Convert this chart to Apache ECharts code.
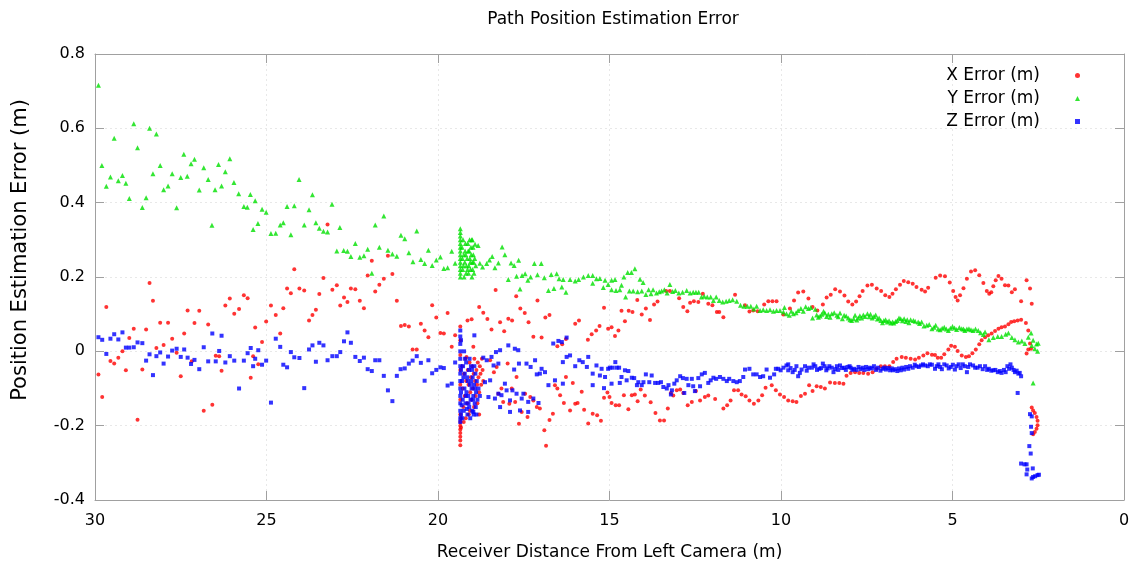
<!DOCTYPE html>
<html>
<head>
<meta charset="utf-8">
<script src="https://cdn.jsdelivr.net/npm/echarts@6/dist/echarts.min.js"></script>
<style>
html,body{margin:0;padding:0;background:#fff;}
#chart{width:1140px;height:569px;}
</style>
</head>
<body>
<div id="chart"></div>
<script>
// ---- data ----
const chartTitle = 'Path Position Estimation Error';
const xAxisName = 'Receiver Distance From Left Camera (m)';
const yAxisName = 'Position Estimation Error (m)';
const seriesNames = ['X Error (m)', 'Y Error (m)', 'Z Error (m)'];
const xTicks = [0, 5, 10, 15, 20, 25, 30];
const yTicks = [-0.4, -0.2, 0, 0.2, 0.4, 0.6, 0.8];

// X Error (red)
const xErrorData = [
[29.9,-0.062],[29.79,-0.123],[29.67,0.119],[29.55,-0.026],[29.44,-0.033],[29.32,-0.017],[29.2,0.0],[29.1,-0.051],[29.0,0.036],[28.87,0.061],[28.76,-0.184],[28.62,-0.049],[28.51,0.059],[28.41,0.184],[28.31,0.136],[28.21,0.009],[28.1,0.077],[28.0,0.017],[27.87,0.077],[27.75,0.034],[27.62,-0.004],[27.5,-0.067],[27.4,0.048],[27.3,0.11],[27.18,-0.027],[27.1,0.076],[26.96,0.109],[26.83,-0.16],[26.7,0.072],[26.58,-0.144],[26.48,-0.012],[26.38,-0.013],[26.31,-0.052],[26.2,0.123],[26.07,0.142],[25.94,0.101],[25.8,0.114],[25.66,0.151],[25.55,0.143],[25.46,-0.071],[25.39,-0.013],[25.33,0.064],[25.24,-0.035],[25.13,0.025],[25.01,0.08],[24.87,0.123],
[24.73,0.098],[24.6,0.048],[24.51,0.116],[24.4,0.169],[24.29,0.156],[24.19,0.221],[24.04,0.169],[23.9,0.164],[23.76,0.083],[23.66,0.098],[23.56,0.112],[23.46,0.154],[23.34,0.197],[23.22,0.341],[23.08,0.166],[22.95,0.178],[22.85,0.123],[22.74,0.145],[22.64,0.133],[22.54,0.169],[22.41,0.167],[22.28,0.136],[22.16,0.116],[22.05,0.204],[21.93,0.244],[21.83,0.161],[21.71,0.179],[21.58,0.195],[21.46,0.257],[21.33,0.208],[21.2,0.136],[21.08,0.068],[20.97,0.071],[20.85,0.067],[20.74,0.005],[20.62,0.005],[20.5,0.074],[20.39,0.056],[20.28,0.038],[20.17,0.124],[20.05,0.091],[19.93,0.049],[19.83,0.048],[19.72,0.103],[19.6,0.012],[19.5,0.043],
[19.35,0.067],[19.35,0.03],[19.35,-0.01],[19.35,-0.05],[19.35,-0.09],[19.35,-0.13],[19.35,-0.17],[19.35,-0.19],[19.35,-0.2],[19.35,-0.21],[19.35,-0.22],[19.35,-0.23],[19.35,-0.24],[19.35,-0.253],[19.33,-0.18],[19.33,-0.205],
[19.3,-0.04],[19.28,-0.1],[19.26,-0.15],[19.24,-0.06],[19.22,-0.12],[19.2,-0.02],[19.18,-0.08],[19.17,-0.015],[19.15,-0.14],[19.13,-0.05],[19.11,-0.09],[19.1,-0.17],[19.08,-0.03],[19.06,-0.11],[19.04,-0.07],[19.02,-0.13],[19.0,-0.04],[18.98,-0.1],[18.96,-0.06],[18.94,-0.02],[18.92,-0.08],[18.9,-0.12],[18.88,-0.05],[18.86,-0.09],[18.84,-0.03],[18.82,-0.07],[18.8,-0.11],[18.78,-0.04],[18.76,-0.06],[18.74,-0.09],[18.72,-0.02],[18.7,-0.05],[18.68,-0.08],[19.14,0.083],[19.02,0.086],[18.97,0.012],[19.07,-0.16],[19.19,-0.18],[18.85,-0.14],[18.95,-0.15],[19.25,-0.19],[18.8,-0.17],
[18.8,0.119],[18.68,0.104],[18.56,0.087],[18.44,0.059],[18.32,0.165],[18.19,0.078],[18.07,0.054],[17.95,0.088],[17.84,0.083],[17.72,0.148],[17.6,0.115],[17.47,0.103],[17.36,0.078],[17.22,0.039],[17.1,0.137],[16.98,0.037],[16.87,0.091],[16.75,0.098],[16.52,0.014],[16.38,0.019],[16.27,0.033],[16.0,0.074],[15.89,0.083],[15.63,0.031],
[18.48,-0.024],[18.37,-0.056],[18.29,-0.042],[18.24,-0.114],[18.15,-0.1],[18.1,-0.136],[17.97,-0.033],[17.92,-0.141],[17.85,-0.1],[17.75,-0.136],[17.71,-0.069],[17.64,-0.195],[17.56,-0.163],[17.46,-0.114],[17.39,-0.177],[17.31,-0.123],[17.22,-0.132],[17.12,-0.15],[17.03,-0.154],[16.9,-0.212],[16.85,-0.254],[16.75,-0.185],[16.65,-0.168],[16.59,-0.091],[16.52,-0.1],[16.44,-0.118],[16.33,-0.139],[16.27,-0.069],[16.15,-0.159],[16.07,-0.085],[16.0,-0.141],[15.93,-0.139],[15.81,-0.109],[15.74,-0.157],[15.62,-0.194],
[15.52,0.046],[15.39,0.056],[15.29,0.068],[15.16,0.117],[15.04,0.061],[14.94,0.065],[14.84,0.041],[14.74,0.056],[14.65,0.109],[14.55,0.081],[14.44,0.109],[14.33,0.106],[14.19,0.138],[14.06,0.099],[13.94,0.115],[13.82,0.084],[13.7,0.126],[13.6,0.134],[13.35,0.162],[13.24,0.162],[12.97,0.143],[12.85,0.119],[12.73,0.108],[12.65,0.131],[12.54,0.135],[12.41,0.133],[12.28,0.155],[12.12,0.128],[12.0,0.124],[11.87,0.106],[11.8,0.106],[11.68,0.092],[11.34,0.152],[11.05,0.124],[10.92,0.107],[10.81,0.11],[10.68,0.108],[10.49,0.126],[10.37,0.135],[10.25,0.135],[10.13,0.135],
[15.49,-0.168],[15.36,-0.172],[15.25,-0.187],[15.16,-0.125],[15.06,-0.111],[15.0,-0.123],[14.94,-0.139],[14.82,-0.145],[14.72,-0.145],[14.58,-0.118],[14.45,-0.156],[14.35,-0.118],[14.26,-0.116],[14.18,-0.134],[14.09,-0.103],[13.97,-0.119],[13.8,-0.137],[13.66,-0.166],[13.53,-0.186],[13.41,-0.186],[13.3,-0.154],[13.21,-0.112],[13.14,-0.119],[13.04,-0.105],[12.94,-0.103],[12.85,-0.112],[12.72,-0.145],[12.6,-0.136],[12.48,-0.107],[12.36,-0.132],[12.22,-0.123],[12.12,-0.119],[11.92,-0.128],[11.68,-0.154],[11.57,-0.145],[11.47,-0.132],[11.37,-0.105],[11.25,-0.105],[11.15,-0.116],[11.03,-0.121],[10.92,-0.132],[10.79,-0.141],[10.66,-0.132],[10.55,-0.118],[10.45,-0.098],
[10.27,-0.091],[10.15,-0.105],[10.03,-0.116],[9.91,-0.123],[9.79,-0.132],[9.66,-0.134],[9.55,-0.136],[9.42,-0.12],[9.3,-0.114],[9.18,-0.091],[9.08,-0.107],[8.96,-0.094],[8.84,-0.096],[8.72,-0.1],[8.57,-0.084],[8.43,-0.085],[8.3,-0.085],[8.18,-0.087],[8.09,-0.066],[7.97,-0.058],[7.84,-0.056],[7.72,-0.058],[7.6,-0.058],[7.46,-0.06],[7.33,-0.056],[7.21,-0.047],[7.09,-0.04],[6.97,-0.04],[6.84,-0.04],[6.73,-0.029],[6.63,-0.02],[6.48,-0.015],[6.36,-0.017],[6.22,-0.02],[6.09,-0.022],
[9.93,0.099],[9.74,0.115],[9.62,0.137],[9.5,0.158],[9.35,0.161],[9.2,0.142],[9.08,0.119],[8.94,0.11],[8.78,0.126],[8.67,0.145],[8.55,0.152],[8.42,0.167],[8.28,0.161],[8.15,0.15],[8.04,0.134],[7.92,0.126],[7.81,0.134],[7.71,0.148],[7.62,0.162],[7.48,0.177],[7.35,0.179],[7.21,0.169],[7.08,0.162],[6.96,0.151],[6.84,0.146],[6.75,0.155],[6.65,0.167],[6.53,0.179],[6.42,0.189],[6.29,0.186],[6.16,0.182],[6.05,0.173],
[5.9,0.166],[5.8,0.161],[5.71,0.171],[5.49,0.198],[5.36,0.204],[5.22,0.202],[5.08,0.185],[4.98,0.162],[4.91,0.146],[4.85,0.137],[4.78,0.151],[4.68,0.17],[4.58,0.195],[4.46,0.215],[4.34,0.218],[4.22,0.205],[4.1,0.184],[4.0,0.162],[3.93,0.155],[3.87,0.159],[3.81,0.175],[3.74,0.191],[3.66,0.203],[3.57,0.195],[3.47,0.178],[3.37,0.177],[3.27,0.159],[3.18,0.167],[3.0,0.135],[2.84,0.191],[2.74,0.169],[2.69,0.128],
[5.98,-0.017],[5.85,-0.011],[5.73,-0.005],[5.6,-0.009],[5.51,-0.01],[5.43,-0.017],[5.33,-0.017],[5.24,-0.008],[5.12,0.005],[5.04,0.015],[4.93,0.012],[4.85,0.001],[4.73,-0.011],[4.61,-0.015],[4.52,-0.013],[4.42,-0.005],[4.32,0.005],[4.22,0.019],[4.15,0.03],[4.05,0.038],[3.96,0.043],[3.86,0.048],[3.76,0.055],[3.66,0.061],[3.57,0.065],[3.47,0.067],[3.37,0.073],[3.29,0.079],[3.2,0.081],[3.1,0.083],[3.0,0.085],[2.86,0.076],[2.79,0.056],[2.74,0.021],[2.79,0.005],[2.84,-0.006],[2.71,0.007],
[2.69,-0.151],[2.65,-0.159],[2.6,-0.166],[2.55,-0.177],[2.52,-0.187],[2.52,-0.199],[2.55,-0.208],[2.6,-0.217],[2.65,-0.223]
];

// Y Error (green)
const yErrorData = [
[29.9,0.716],[29.8,0.5],[29.67,0.444],[29.55,0.469],[29.44,0.573],[29.32,0.459],[29.2,0.473],[29.1,0.452],[29.0,0.411],[28.87,0.612],[28.76,0.548],[28.62,0.387],[28.51,0.413],[28.41,0.6],[28.31,0.478],[28.21,0.585],[28.1,0.5],[28.0,0.435],[27.87,0.445],[27.75,0.478],[27.62,0.386],[27.5,0.468],[27.41,0.53],[27.31,0.471],[27.2,0.505],[27.1,0.517],[26.96,0.434],[26.83,0.494],[26.7,0.462],[26.59,0.339],[26.5,0.435],[26.4,0.503],[26.31,0.445],[26.2,0.483],[26.07,0.518],[25.95,0.454],[25.81,0.424],[25.66,0.39],[25.56,0.388],[25.47,0.422],[25.39,0.328],[25.33,0.405],[25.25,0.344],[25.13,0.382],[25.01,0.374],[24.87,0.317],
[24.73,0.318],[24.6,0.34],[24.51,0.346],[24.4,0.39],[24.29,0.314],[24.19,0.392],[24.05,0.462],[23.9,0.34],[23.76,0.381],[23.66,0.421],[23.56,0.346],[23.46,0.331],[23.34,0.323],[23.22,0.321],[23.09,0.396],[22.95,0.27],[22.86,0.333],[22.75,0.271],[22.64,0.269],[22.54,0.255],[22.41,0.29],[22.28,0.253],[22.16,0.257],[22.05,0.275],[21.93,0.21],[21.83,0.34],[21.71,0.28],[21.58,0.364],[21.46,0.272],[21.33,0.262],[21.2,0.256],[21.08,0.312],[20.97,0.303],[20.85,0.265],[20.73,0.241],[20.62,0.324],[20.5,0.247],[20.39,0.236],[20.28,0.272],[20.17,0.231],[20.05,0.246],[19.93,0.254],[19.83,0.223],[19.72,0.225],[19.6,0.269],[19.5,0.237],
[19.35,0.2],[19.35,0.21],[19.35,0.22],[19.35,0.23],[19.35,0.24],[19.35,0.25],[19.35,0.26],[19.35,0.27],[19.35,0.28],[19.35,0.29],[19.35,0.3],[19.35,0.31],[19.35,0.32],[19.35,0.33],
[19.3,0.28],[19.28,0.22],[19.25,0.26],[19.22,0.24],[19.2,0.29],[19.18,0.21],[19.15,0.25],[19.12,0.27],[19.1,0.23],[19.08,0.3],[19.05,0.22],[19.03,0.26],[19.0,0.24],[18.98,0.28],[18.95,0.21],[18.93,0.25],[18.9,0.23],[19.27,0.3],[19.24,0.2],[19.21,0.27],[19.17,0.23],[19.13,0.29],[19.11,0.21],[19.07,0.25],[19.04,0.28],[19.01,0.2],[18.97,0.26],[19.29,0.25],[19.26,0.23],[19.19,0.26],[19.14,0.22],[19.09,0.27],[19.06,0.24],[19.02,0.3],[18.99,0.22],[18.96,0.24],
[19.0,0.3],[18.92,0.288],[18.83,0.285],[18.78,0.237],[18.7,0.227],[18.58,0.236],[18.5,0.246],[18.42,0.255],[18.34,0.225],[18.24,0.238],[18.13,0.281],[18.05,0.26],[17.95,0.193],[17.87,0.238],[17.78,0.231],[17.71,0.202],[17.65,0.245],[17.61,0.168],[17.55,0.204],[17.46,0.209],[17.38,0.191],[17.3,0.2],[17.19,0.236],[17.1,0.206],[16.99,0.236],[16.9,0.198],[16.78,0.164],[16.7,0.207],[16.62,0.169],[16.54,0.209],[16.47,0.195],[16.39,0.173],[16.35,0.193],[16.27,0.159],[16.15,0.193],[16.0,0.189],[15.9,0.193],[15.76,0.2],[15.62,0.204],
[15.49,0.204],[15.38,0.195],[15.49,0.183],[15.28,0.196],[15.18,0.172],[15.13,0.191],[15.04,0.18],[14.94,0.191],[14.84,0.193],[14.94,0.166],[14.81,0.164],[14.7,0.166],[14.65,0.178],[14.58,0.2],[14.53,0.146],[14.47,0.212],[14.42,0.162],[14.36,0.212],[14.31,0.162],[14.26,0.222],[14.18,0.16],[14.11,0.194],[14.06,0.162],[14.02,0.185],[13.94,0.153],[13.86,0.166],[13.79,0.155],[13.73,0.166],[13.63,0.157],[13.55,0.16],[13.48,0.162],[13.4,0.166],[13.32,0.157],[13.24,0.18],[13.16,0.161],[13.08,0.164],[12.98,0.157],[12.87,0.159],[12.75,0.164],[12.65,0.157],[12.56,0.159],[12.48,0.159],[12.4,0.159],[12.32,0.146],[12.24,0.148],[12.15,0.146],[12.05,0.146],[11.97,0.137],[11.89,0.146],[11.8,0.137],[11.7,0.133],[11.6,0.135],[11.51,0.137],[11.41,0.139],[11.29,0.135],[11.18,0.124],[11.08,0.121],[10.98,0.121],[10.88,0.121],[10.79,0.114],[10.71,0.121],[10.61,0.11],[10.52,0.112],[10.42,0.11],[10.32,0.112],[10.22,0.108],[10.13,0.11],[10.03,0.11],[9.93,0.106],[9.84,0.101],[9.76,0.097],
[9.64,0.101],[9.5,0.11],[9.35,0.108],[9.2,0.115],[9.08,0.09],[9.0,0.113],[8.91,0.092],[8.81,0.1],[8.72,0.103],[8.62,0.1],[8.52,0.101],[8.37,0.097],[8.28,0.103],[8.16,0.097],[8.04,0.09],[7.94,0.083],[7.84,0.097],[7.75,0.09],[7.65,0.09],[7.55,0.094],[7.48,0.101],[7.39,0.1],[7.29,0.094],[7.19,0.087],[7.09,0.083],[7.0,0.083],[6.9,0.079],[6.8,0.076],[6.71,0.076],[6.61,0.083],[6.51,0.088],[6.41,0.088],[6.32,0.085],[6.22,0.085],[6.09,0.081],[6.0,0.079],
[9.9,0.118],[9.7,0.108],[9.56,0.104],[9.42,0.115],[9.28,0.12],[9.13,0.118],[8.96,0.098],[8.86,0.095],[8.76,0.108],[8.67,0.094],[8.57,0.092],[8.45,0.104],[8.33,0.093],[8.21,0.088],[8.1,0.095],[7.99,0.085],[7.88,0.088],[7.79,0.084],[7.7,0.096],[7.6,0.098],[7.43,0.093],[7.34,0.09],[7.24,0.098],[7.14,0.09],[7.04,0.077],[6.95,0.085],[6.85,0.082],[6.75,0.079],[6.66,0.08],[6.56,0.09],[6.46,0.082],[6.36,0.08],[6.27,0.077],[6.14,0.083],
[5.9,0.079],[5.75,0.07],[5.6,0.061],[5.49,0.07],[5.36,0.058],[5.24,0.065],[5.12,0.056],[5.0,0.067],[4.88,0.059],[4.73,0.061],[4.64,0.056],[4.52,0.061],[4.4,0.056],[4.25,0.056],[4.05,0.052],[3.94,0.031],[3.81,0.037],[3.68,0.04],[3.57,0.04],[3.45,0.046],[3.37,0.049],[3.27,0.037],[3.18,0.031],[3.08,0.025],[2.98,0.028],[2.89,0.021],[2.79,0.038],[2.71,0.049],[2.69,0.016],[2.65,0.03],[2.6,0.007],[2.55,0.02],[2.52,0.0],[2.5,0.022],[2.65,-0.085],
[5.96,0.075],[5.83,0.068],[5.68,0.072],[5.54,0.065],[5.42,0.06],[5.3,0.062],[5.18,0.06],[5.06,0.062],[4.94,0.063],[4.8,0.064],[4.68,0.06],[4.58,0.06],[4.46,0.058],[4.33,0.06],[4.18,0.05],[4.1,0.045]
];

// Z Error (blue)
const zErrorData = [
[29.9,0.038],[29.79,0.031],[29.67,-0.007],[29.55,0.034],[29.44,0.046],[29.32,0.032],[29.2,0.051],[29.1,0.01],[29.0,0.01],[28.87,0.011],[28.76,0.024],[28.62,0.022],[28.51,-0.025],[28.41,-0.008],[28.31,-0.064],[28.21,-0.013],[28.1,-0.003],[28.0,-0.033],[27.87,-0.014],[27.75,0.002],[27.62,0.007],[27.5,-0.015],[27.4,0.005],[27.3,-0.017],[27.2,-0.034],[27.1,-0.023],[26.96,-0.048],[26.83,0.011],[26.7,-0.027],[26.58,0.048],[26.48,-0.027],[26.38,0.001],[26.31,0.042],[26.2,-0.03],[26.07,-0.013],[25.94,-0.025],[25.8,-0.1],[25.66,-0.025],[25.55,-0.005],[25.46,0.009],[25.39,-0.04],[25.33,-0.02],[25.24,0.003],[25.13,-0.036],[25.01,-0.025],[24.87,-0.138],
[24.73,0.034],[24.6,0.012],[24.51,-0.036],[24.4,-0.043],[24.29,-0.002],[24.19,-0.016],[24.04,-0.018],[23.9,-0.099],[23.76,0.005],[23.66,0.016],[23.56,-0.028],[23.46,0.023],[23.34,0.016],[23.22,-0.024],[23.08,-0.013],[22.95,-0.013],[22.85,-0.002],[22.74,0.027],[22.64,0.051],[22.54,0.023],[22.41,-0.015],[22.28,-0.026],[22.16,-0.017],[22.05,-0.048],[21.93,-0.053],[21.83,-0.024],[21.71,-0.024],[21.58,-0.066],[21.46,-0.105],[21.33,-0.134],[21.2,-0.066],[21.09,-0.048],[20.97,-0.046],[20.85,-0.033],[20.74,-0.025],[20.62,-0.013],[20.5,-0.031],[20.39,-0.079],[20.28,-0.024],[20.17,-0.059],[20.05,-0.05],[19.93,-0.043],[19.83,-0.045],[19.72,-0.092],[19.6,-0.087],[19.5,-0.03],
[19.35,0.056],[19.35,0.04],[19.35,0.02],[19.35,0.0],[19.35,-0.02],[19.35,-0.04],[19.35,-0.06],[19.35,-0.08],[19.35,-0.1],[19.35,-0.12],[19.35,-0.14],[19.35,-0.16],[19.35,-0.18],[19.35,-0.19],[19.33,0.03],[19.33,-0.05],[19.33,-0.11],[19.33,-0.17],
[19.3,-0.08],[19.28,-0.13],[19.27,-0.04],[19.25,-0.16],[19.23,-0.1],[19.22,-0.06],[19.2,-0.14],[19.18,-0.03],[19.17,-0.11],[19.15,-0.07],[19.14,-0.17],[19.12,-0.12],[19.1,-0.05],[19.09,-0.15],[19.07,-0.09],[19.05,-0.13],[19.04,-0.04],[19.02,-0.1],[19.0,-0.16],[18.99,-0.07],[18.97,-0.12],[18.95,-0.09],[18.93,-0.14],[18.91,-0.06],[18.89,-0.11],[18.87,-0.08],[18.85,-0.13],[19.29,-0.18],[19.21,-0.02],[19.13,-0.08],[19.06,-0.18],[19.01,-0.05],[18.96,-0.17],[18.92,-0.1],[18.82,-0.1],[18.78,-0.12],[19.26,-0.07],[19.19,-0.12],[19.11,-0.14],[19.03,-0.08],[18.98,-0.13],[19.24,0.0],[19.08,-0.02],[18.9,-0.15],[18.94,-0.04],[19.31,-0.145],[19.16,-0.155],[18.88,-0.17],
[18.94,0.043],[18.68,-0.017],[18.58,-0.024],[18.44,-0.015],[18.31,-0.002],[18.19,0.003],[17.95,0.016],[17.76,0.007],[17.66,0.003],[18.38,-0.038],[18.24,-0.033],[17.78,-0.049],[17.64,-0.033],[17.42,-0.033],[17.3,-0.042],[17.17,-0.024],[17.12,-0.062],[17.03,-0.06],[16.98,-0.047],[16.88,-0.056],[16.78,-0.091],[16.64,0.021],[16.49,0.028],[16.39,0.025],[16.25,0.037],[16.36,-0.029],[16.25,-0.015],[16.15,-0.011],[16.0,-0.04],[15.88,-0.024],[15.78,-0.029],[15.66,-0.042],[15.62,-0.015],
[18.63,-0.083],[18.48,-0.078],[18.53,-0.123],[18.34,-0.127],[18.24,-0.114],[18.15,-0.118],[18.05,-0.087],[18.0,-0.105],[17.9,-0.132],[17.83,-0.105],[17.71,-0.114],[17.56,-0.127],[17.51,-0.114],[17.37,-0.136],[17.22,-0.127],[17.07,-0.139],[17.9,-0.163],[17.61,-0.159],[17.37,-0.163],[16.59,-0.078],[16.36,-0.087],[18.19,-0.15],[18.97,-0.163],
[15.49,-0.06],[15.49,-0.091],[15.38,-0.038],[15.28,-0.065],[15.23,-0.047],[15.16,-0.099],[15.13,-0.069],[15.04,-0.047],[14.99,-0.044],[14.94,-0.087],[14.91,-0.044],[14.83,-0.029],[14.79,-0.044],[14.72,-0.044],[14.7,-0.085],[14.65,-0.069],[14.55,-0.051],[14.5,-0.078],[14.45,-0.053],[14.35,-0.071],[14.28,-0.072],[14.2,-0.091],[14.16,-0.083],[14.06,-0.091],[14.01,-0.083],[13.94,-0.062],[13.84,-0.083],[13.77,-0.065],[13.67,-0.085],[13.58,-0.085],[13.5,-0.083],[13.43,-0.096],[13.33,-0.1],[13.28,-0.091],[13.21,-0.116],[13.18,-0.105],[13.11,-0.087],[13.04,-0.078],[12.94,-0.067],[12.86,-0.072],[12.82,-0.112],[12.75,-0.074],[12.7,-0.091],[12.6,-0.074],[12.56,-0.094],[12.51,-0.107],[12.41,-0.072],[12.36,-0.094],[12.31,-0.062],[12.22,-0.058],[12.12,-0.085],[12.05,-0.078],[11.97,-0.071],[11.89,-0.074],[11.78,-0.069],[11.68,-0.074],[11.58,-0.08],[11.51,-0.074],[11.39,-0.08],[11.29,-0.083],[11.2,-0.08],[11.1,-0.069],[11.05,-0.049],[10.92,-0.047],[10.81,-0.062],[10.71,-0.062],[10.61,-0.069],[10.52,-0.067],[10.42,-0.049],[10.32,-0.071],[10.2,-0.062],[10.15,-0.047],[10.08,-0.047],[10.01,-0.051],[9.93,-0.044],[9.84,-0.038],[9.79,-0.051],
[9.79,-0.035],[9.66,-0.056],[9.55,-0.04],[9.5,-0.067],[9.4,-0.049],[9.3,-0.04],[9.2,-0.044],[9.1,-0.044],[9.0,-0.04],[8.88,-0.047],[8.78,-0.033],[8.68,-0.051],[8.59,-0.04],[8.47,-0.056],[8.37,-0.04],[8.28,-0.038],[8.16,-0.044],[8.06,-0.042],[7.97,-0.044],[7.87,-0.047],[7.74,-0.042],[7.62,-0.044],[7.52,-0.042],[7.41,-0.044],[7.29,-0.04],[7.17,-0.044],[7.04,-0.047],[6.94,-0.049],[6.82,-0.051],[6.73,-0.051],[6.61,-0.053],[6.51,-0.051],[6.41,-0.049],[6.29,-0.047],[6.16,-0.044],[6.05,-0.04],
[9.72,-0.045],[9.6,-0.05],[9.45,-0.058],[9.25,-0.052],[9.05,-0.035],[8.95,-0.05],[8.83,-0.045],[8.73,-0.04],[8.64,-0.046],[8.52,-0.044],[8.42,-0.048],[8.33,-0.05],[8.22,-0.045],[8.11,-0.05],[8.0,-0.04],[7.92,-0.05],[7.8,-0.05],[7.68,-0.048],[7.57,-0.05],[7.46,-0.048],[7.35,-0.046],[7.23,-0.05],[7.1,-0.052],[6.99,-0.044],[6.88,-0.045],[6.77,-0.046],[6.67,-0.048],[6.56,-0.046],[6.46,-0.044],[6.35,-0.042],[6.24,-0.04],[6.1,-0.036],
[5.92,-0.038],[5.8,-0.038],[5.66,-0.035],[5.51,-0.047],[5.41,-0.035],[5.31,-0.048],[5.17,-0.038],[5.05,-0.042],[4.93,-0.049],[4.82,-0.035],[4.7,-0.035],[4.58,-0.056],[4.49,-0.035],[4.34,-0.044],[4.2,-0.04],[4.05,-0.04],[3.94,-0.047],[3.81,-0.051],[3.68,-0.056],[3.57,-0.058],[3.45,-0.056],[3.35,-0.047],[3.27,-0.044],[3.18,-0.056],[3.08,-0.06],[3.0,-0.067],
[5.98,-0.042],[5.86,-0.035],[5.72,-0.04],[5.6,-0.036],[5.46,-0.04],[5.36,-0.042],[5.24,-0.035],[5.11,-0.046],[4.99,-0.036],[4.88,-0.04],[4.76,-0.045],[4.64,-0.04],[4.54,-0.042],[4.4,-0.038],[4.27,-0.044],[4.12,-0.048],[3.99,-0.05],[3.87,-0.052],[3.75,-0.05],[3.62,-0.053],[3.5,-0.05],[3.4,-0.04],[3.31,-0.035],[3.22,-0.05],[3.13,-0.052],[3.04,-0.058],
[3.1,-0.112],[2.74,-0.169],[2.69,-0.175],[2.71,-0.203],[2.69,-0.22],[2.76,-0.255],[2.72,-0.275],[3.0,-0.302],[2.9,-0.304],[2.84,-0.304],[2.82,-0.318],[2.84,-0.331],[2.69,-0.342],[2.65,-0.338],[2.59,-0.336],[2.52,-0.333],[2.48,-0.332],[2.66,-0.315]
];

// ---- chart ----
const FONT = 'DejaVu Sans';
const AXIS_COLOR = '#a0a0a0';
const xMin = xTicks[0], xMax = xTicks[xTicks.length - 1], xStep = xTicks[1] - xTicks[0];
const yMin = yTicks[0], yMax = yTicks[yTicks.length - 1], yStep = 0.2;

const chart = echarts.init(document.getElementById('chart'), null, {renderer: 'canvas'});

function baseX(extra) {
  return Object.assign({
    type: 'value', inverse: true, min: xMin, max: xMax, interval: xStep,
    axisLine: {show: true, onZero: false, lineStyle: {color: AXIS_COLOR, width: 1}},
    axisTick: {show: true, inside: true, length: 9, lineStyle: {color: AXIS_COLOR}},
    splitLine: {show: false}
  }, extra);
}
function baseY(extra) {
  return Object.assign({
    type: 'value', min: yMin, max: yMax, interval: yStep,
    axisLine: {show: true, onZero: false, lineStyle: {color: AXIS_COLOR, width: 1}},
    axisTick: {show: true, inside: true, length: 9, lineStyle: {color: AXIS_COLOR}},
    splitLine: {show: false}
  }, extra);
}

const option = {
  animation: false,
  backgroundColor: '#ffffff',
  textStyle: {fontFamily: FONT},
  title: {
    text: chartTitle,
    left: 608, top: 6, textAlign: 'center',
    textStyle: {fontFamily: FONT, fontSize: 17, fontWeight: 'normal', color: '#000'}
  },
  legend: {
    orient: 'vertical', right: 55, top: 62, align: 'right',
    itemGap: 6, itemWidth: 5, itemHeight: 5,
    textStyle: {fontFamily: FONT, fontSize: 17, color: '#000', padding: [0, 30, 0, 0]},
    data: [
      {name: seriesNames[0], icon: 'circle'},
      {name: seriesNames[1], icon: 'triangle'},
      {name: seriesNames[2], icon: 'rect'}
    ]
  },
  grid: {left: 95, right: 16, top: 54, bottom: 69, containLabel: false},
  xAxis: [
    baseX({
      position: 'bottom',
      name: xAxisName, nameLocation: 'middle', nameGap: 44,
      nameTextStyle: {fontFamily: FONT, fontSize: 17, color: '#000'},
      axisLabel: {color: '#000', fontSize: 16, fontFamily: FONT, margin: 13},
      splitLine: {show: true, lineStyle: {color: '#e8e8e8', type: [2, 3], width: 1}}
    }),
    baseX({position: 'top', axisLabel: {show: false}})
  ],
  yAxis: [
    baseY({
      position: 'left',
      name: yAxisName, nameLocation: 'middle', nameGap: 64, nameRotate: 90,
      nameTextStyle: {fontFamily: FONT, fontSize: 21, color: '#000', padding: [0, 0, 0, 54]},
      axisLabel: {color: '#000', fontSize: 16, fontFamily: FONT, margin: 10},
      splitLine: {show: true, lineStyle: {color: '#e8e8e8', type: [2, 3], width: 1}}
    }),
    baseY({position: 'right', axisLabel: {show: false}})
  ],
  series: [
    {name: seriesNames[0], type: 'scatter', xAxisIndex: 0, yAxisIndex: 0, data: xErrorData,
     symbol: 'circle', symbolSize: 4, itemStyle: {color: '#ff0000'}},
    {name: seriesNames[1], type: 'scatter', xAxisIndex: 0, yAxisIndex: 0, data: yErrorData,
     symbol: 'triangle', symbolSize: 5, itemStyle: {color: '#00e000'}},
    {name: seriesNames[2], type: 'scatter', xAxisIndex: 0, yAxisIndex: 0, data: zErrorData,
     symbol: 'rect', symbolSize: 4, itemStyle: {color: '#0000ff'}}
  ]
};
chart.setOption(option);
</script>
</body>
</html>
